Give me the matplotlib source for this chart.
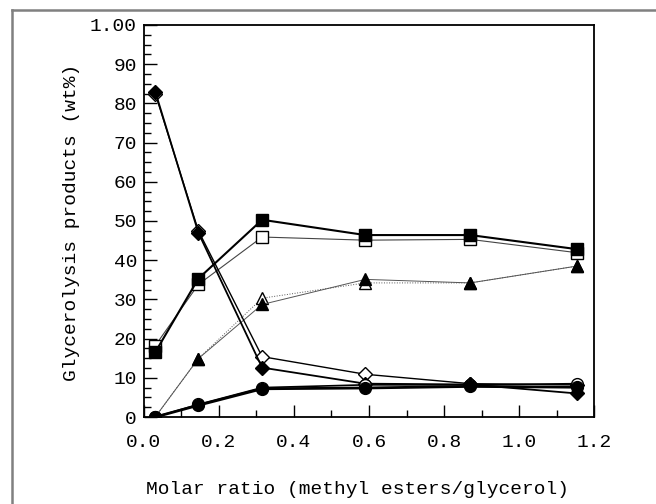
import numpy as np
import matplotlib
matplotlib.use("Agg")
import matplotlib.pyplot as plt
from matplotlib.lines import Line2D
from matplotlib.ticker import MultipleLocator

plt.rcParams["font.family"] = ["Liberation Mono", "DejaVu Sans Mono"]

# molar ratio (x) and product contents (wt%)
ratio = [0.03, 0.145, 0.315, 0.59, 0.87, 1.155]
sq_filled = [16.5, 35.3, 50.3, 46.4, 46.4, 42.8]
sq_open = [18.2, 33.8, 45.9, 45.1, 45.3, 41.9]
tri_filled = [0.0, 14.9, 28.7, 35.1, 34.2, 38.5]
tri_open = [0.0, 14.9, 30.3, 34.2, 34.2, 38.5]
dia_filled = [83.0, 47.0, 12.6, 8.5, 8.3, 6.0]
dia_open = [82.5, 47.5, 15.4, 10.9, 8.5, 8.2]
circ_filled = [0.0, 3.0, 7.2, 7.4, 7.8, 7.6]
circ_open = [0.0, 3.2, 7.5, 8.2, 8.2, 8.5]

x_ticks = [0.0, 0.2, 0.4, 0.6, 0.8, 1.0, 1.2]
x_labels = ["0.0", "0.2", "0.4", "0.6", "0.8", "1.0", "1.2"]
y_ticks = [0, 10, 20, 30, 40, 50, 60, 70, 80, 90, 100]
y_labels = ["0", "10", "20", "30", "40", "50", "60", "70", "80", "90", "1.00"]

fig = plt.figure(figsize=(6.56, 5.04), dpi=100)
ax = fig.add_axes([0.2195, 0.1726, 0.686, 0.778])

# open symbols first, filled ones drawn over them
ax.plot(ratio, tri_open, color="#555555", lw=0.7, ls=":", marker="^", ms=8,
        mfc="white", mec="black", mew=1.0)
ax.plot(ratio, tri_filled, color="#555555", lw=0.7, marker="^", ms=8,
        mfc="black", mec="black")
ax.plot(ratio, sq_open, color="#444444", lw=0.8, marker="s", ms=8.5,
        mfc="white", mec="black", mew=1.0)
ax.plot(ratio, sq_filled, color="black", lw=1.5, marker="s", ms=8.5,
        mfc="black", mec="black")
ax.plot(ratio, dia_open, color="black", lw=1.0, marker="D", ms=7,
        mfc="white", mec="black", mew=1.0)
ax.plot(ratio, dia_filled, color="black", lw=1.3, marker="D", ms=7,
        mfc="black", mec="black")
ax.plot(ratio, circ_open, color="black", lw=1.2, marker="o", ms=8.5,
        mfc="white", mec="black", mew=1.0)
ax.plot(ratio, circ_filled, color="black", lw=2.0, marker="o", ms=8.5,
        mfc="black", mec="black")

ax.set_xlim(0, 1.2)
ax.set_ylim(0, 100)
ax.set_xticks(x_ticks)
ax.set_xticklabels(x_labels, fontsize=14)
ax.set_yticks(y_ticks)
ax.set_yticklabels(y_labels, fontsize=14)
ax.xaxis.set_minor_locator(MultipleLocator(0.1))
ax.yaxis.set_minor_locator(MultipleLocator(2.5))
ax.tick_params(which="major", direction="in", length=9, width=1.0,
               top=False, right=False)
ax.tick_params(axis="x", which="major", pad=12)
ax.tick_params(axis="y", which="major", pad=5)
ax.tick_params(which="minor", direction="in", length=5, width=1.0,
               top=False, right=False)
for sp in ax.spines.values():
    sp.set_linewidth(1.3)

fig.text(72 / 656, 1 - 222 / 504, "Glycerolysis products (wt%)", rotation=90,
         ha="center", va="center", fontsize=14)
fig.text(357 / 656, 1 - 490 / 504, "Molar ratio (methyl esters/glycerol)",
         ha="center", va="center", fontsize=14)

# grey page border from the scan
fig.add_artist(Line2D([12 / 656, 12 / 656], [0, 1 - 10 / 504], color="#808080", lw=1.8))
fig.add_artist(Line2D([12 / 656, 1], [1 - 10 / 504, 1 - 10 / 504], color="#808080", lw=1.8))

fig.savefig("out.png", dpi=100)
